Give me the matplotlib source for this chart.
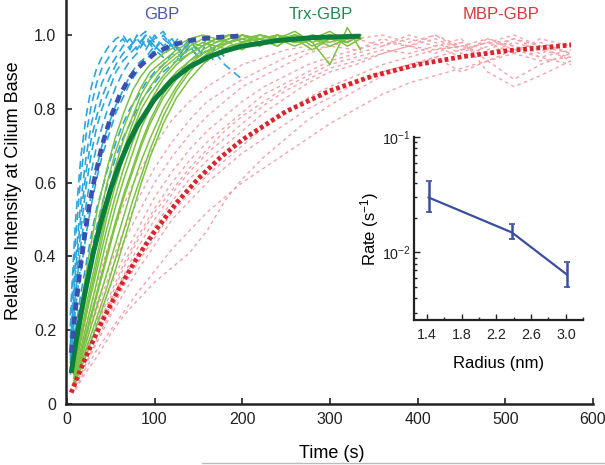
import numpy as np
import matplotlib
matplotlib.use('Agg')
import matplotlib.pyplot as plt
from matplotlib.lines import Line2D

plt.rcParams['font.family'] = ['Liberation Sans', 'DejaVu Sans']
plt.rcParams['mathtext.fontset'] = 'custom'
plt.rcParams['mathtext.rm'] = 'Liberation Sans'
plt.rcParams['mathtext.it'] = 'Liberation Sans:italic'
plt.rcParams['mathtext.bf'] = 'Liberation Sans:bold'

# Time grids for the single traces
gbp_time = [4, 10, 16, 22, 28, 34, 40, 48, 56, 64, 72, 80, 90, 100, 110, 120,
            130, 140, 150, 160, 170, 180, 190, 200]
trx_time = [8, 15, 25, 35, 45, 55, 65, 75, 85, 95, 110, 125, 140, 155, 170, 185,
            200, 220, 240, 260, 280, 300, 320, 335]
mbp_time = [10, 20, 35, 50, 65, 80, 100, 120, 140, 160, 180, 200, 225, 250, 275,
            300, 330, 360, 390, 420, 450, 480, 510, 540, 575]

# GBP single cell traces
gbp_traces = [
    [0.21, 0.45, 0.62, 0.73, 0.81, 0.87, 0.91, 0.94, 0.97, 0.99, 0.96, 1.00, 0.97, 0.99, 1.01, 0.97],
    [0.16, 0.36, 0.51, 0.63, 0.72, 0.78, 0.83, 0.88, 0.92, 0.95, 0.97, 0.99, 0.96, 1.00, 0.97, 0.99, 0.95, 0.98],
    [0.13, 0.30, 0.43, 0.54, 0.63, 0.70, 0.75, 0.81, 0.86, 0.90, 0.93, 0.95, 0.99, 0.96, 1.00, 0.97, 0.94, 0.98, 0.96, 0.99],
    [0.11, 0.24, 0.36, 0.46, 0.54, 0.61, 0.67, 0.73, 0.79, 0.83, 0.87, 0.90, 0.93, 0.96, 0.94, 0.98, 0.95, 0.99, 0.96, 0.93, 0.97, 0.94],
    [0.09, 0.20, 0.30, 0.38, 0.46, 0.53, 0.58, 0.65, 0.71, 0.76, 0.80, 0.83, 0.87, 0.90, 0.92, 0.95, 0.93, 0.97, 0.94, 0.98, 0.95, 0.92, 0.90, 0.88],
    [0.18, 0.39, 0.55, 0.67, 0.76, 0.82, 0.87, 0.91, 0.94, 0.97, 0.99, 0.96, 1.00, 0.97, 0.95],
    [0.15, 0.33, 0.47, 0.59, 0.68, 0.75, 0.80, 0.85, 0.90, 0.93, 0.95, 0.97, 1.00, 0.96, 0.99, 0.97, 1.00],
    [0.12, 0.26, 0.38, 0.49, 0.57, 0.64, 0.70, 0.76, 0.81, 0.85, 0.89, 0.92, 0.94, 0.97, 0.95, 0.98, 0.96, 0.99, 0.95],
    [0.24, 0.50, 0.67, 0.78, 0.86, 0.91, 0.94, 0.97, 0.99, 1.00, 0.97, 0.99, 1.01, 0.98],
    [0.08, 0.17, 0.26, 0.34, 0.41, 0.48, 0.54, 0.61, 0.67, 0.72, 0.76, 0.80, 0.84, 0.87, 0.90, 0.92, 0.94, 0.97, 0.94, 0.96, 0.92],
]

# Trx-GBP single cell traces
trx_traces = [
    [0.12, 0.25, 0.40, 0.53, 0.63, 0.72, 0.79, 0.85, 0.89, 0.92, 0.95, 0.97, 0.99, 1.00, 0.99, 1.00, 0.98, 1.00, 0.99, 1.01, 0.98, 1.00, 0.99, 1.00],
    [0.10, 0.20, 0.33, 0.45, 0.55, 0.64, 0.72, 0.78, 0.84, 0.88, 0.92, 0.95, 0.97, 0.99, 0.98, 1.00, 0.99, 0.97, 1.00, 0.98, 1.00, 0.99, 1.00, 0.99],
    [0.08, 0.16, 0.27, 0.37, 0.47, 0.56, 0.64, 0.71, 0.77, 0.82, 0.88, 0.92, 0.95, 0.97, 0.99, 0.98, 1.00, 0.99, 0.97, 1.00, 0.99, 1.01, 0.98, 1.00],
    [0.07, 0.13, 0.22, 0.31, 0.40, 0.49, 0.57, 0.64, 0.71, 0.77, 0.84, 0.89, 0.93, 0.96, 0.98, 0.99, 1.00, 0.98, 1.00, 0.99, 0.96, 0.99, 1.00, 0.99],
    [0.06, 0.11, 0.19, 0.27, 0.35, 0.43, 0.51, 0.59, 0.66, 0.72, 0.80, 0.86, 0.91, 0.94, 0.97, 0.98, 0.99, 1.00, 0.99, 0.98, 1.00, 0.99, 0.98, 1.00],
    [0.05, 0.10, 0.17, 0.24, 0.31, 0.39, 0.47, 0.55, 0.62, 0.69, 0.78, 0.85, 0.90, 0.94, 0.96, 0.98, 0.99, 0.97, 1.00, 0.98, 0.99, 1.00, 0.99],
    [0.09, 0.18, 0.30, 0.41, 0.52, 0.61, 0.69, 0.76, 0.82, 0.86, 0.91, 0.94, 0.96, 0.98, 0.97, 0.99, 1.00, 0.98, 0.99, 1.00, 0.97, 0.99],
    [0.06, 0.12, 0.21, 0.30, 0.39, 0.48, 0.56, 0.63, 0.70, 0.76, 0.83, 0.88, 0.92, 0.95, 0.97, 0.98, 0.96, 0.99, 1.00, 0.98, 0.99, 0.97, 0.99, 1.00],
    [0.07, 0.14, 0.24, 0.34, 0.44, 0.53, 0.61, 0.68, 0.75, 0.80, 0.86, 0.90, 0.93, 0.95, 0.97, 0.96, 0.98, 0.99, 0.97, 1.00, 0.98, 0.92, 1.02, 0.96],
    [0.11, 0.22, 0.36, 0.48, 0.59, 0.68, 0.75, 0.81, 0.86, 0.90, 0.93, 0.96, 0.98, 0.97, 0.99, 1.00, 0.98, 1.00, 0.99, 0.97, 0.99, 1.00, 0.98],
    [0.05, 0.09, 0.15, 0.22, 0.29, 0.36, 0.44, 0.52, 0.60, 0.67, 0.76, 0.83, 0.88, 0.92, 0.95, 0.97, 0.98, 0.99, 0.98, 1.00, 0.99, 0.98, 1.00, 0.99],
    [0.08, 0.17, 0.28, 0.39, 0.50, 0.59, 0.67, 0.74, 0.80, 0.84, 0.89, 0.93, 0.95, 0.97, 0.99, 0.98, 1.00, 0.99, 0.98, 1.00, 0.99, 1.00, 0.97, 0.99],
]

# MBP-GBP single cell traces
mbp_traces = [
    [0.10, 0.20, 0.33, 0.45, 0.54, 0.62, 0.70, 0.77, 0.82, 0.86, 0.89, 0.92, 0.94, 0.96, 0.97, 0.98, 0.99, 1.00, 0.98, 1.00, 0.97, 0.99, 0.96, 0.98, 0.95],
    [0.09, 0.17, 0.28, 0.38, 0.47, 0.55, 0.64, 0.71, 0.77, 0.82, 0.85, 0.88, 0.91, 0.94, 0.96, 0.97, 0.99, 0.97, 1.00, 0.98, 0.95, 0.99, 0.97, 0.94, 0.96],
    [0.07, 0.14, 0.23, 0.32, 0.40, 0.47, 0.56, 0.63, 0.69, 0.74, 0.78, 0.82, 0.86, 0.89, 0.92, 0.94, 0.96, 0.98, 0.97, 0.99, 0.96, 0.98, 1.00, 0.97, 0.93],
    [0.06, 0.12, 0.20, 0.28, 0.35, 0.42, 0.50, 0.57, 0.63, 0.68, 0.72, 0.76, 0.81, 0.85, 0.88, 0.91, 0.93, 0.95, 0.97, 0.96, 0.98, 0.93, 0.88, 0.92, 0.95],
    [0.05, 0.10, 0.18, 0.25, 0.32, 0.38, 0.45, 0.52, 0.57, 0.62, 0.66, 0.70, 0.75, 0.79, 0.83, 0.86, 0.89, 0.92, 0.94, 0.96, 0.97, 0.95, 0.98, 0.96, 0.94],
    [0.04, 0.08, 0.13, 0.19, 0.24, 0.28, 0.33, 0.37, 0.41, 0.47, 0.55, 0.61, 0.67, 0.72, 0.77, 0.81, 0.85, 0.89, 0.91, 0.94, 0.90, 0.93, 0.96, 0.94, 0.92],
    [0.08, 0.16, 0.26, 0.36, 0.44, 0.51, 0.60, 0.67, 0.73, 0.78, 0.82, 0.86, 0.89, 0.92, 0.95, 0.97, 0.96, 0.99, 0.97, 1.00, 0.96, 0.98, 0.95, 0.99, 0.97],
    [0.06, 0.11, 0.19, 0.27, 0.34, 0.40, 0.48, 0.55, 0.61, 0.66, 0.70, 0.74, 0.79, 0.83, 0.87, 0.90, 0.92, 0.95, 0.97, 0.95, 0.98, 0.96, 0.99, 0.97, 0.95],
    [0.07, 0.13, 0.22, 0.30, 0.38, 0.45, 0.53, 0.60, 0.66, 0.71, 0.75, 0.79, 0.84, 0.87, 0.90, 0.93, 0.95, 0.97, 0.99, 0.97, 0.94, 0.97, 0.99, 0.96, 0.98],
    [0.06, 0.12, 0.21, 0.29, 0.37, 0.44, 0.52, 0.58, 0.64, 0.69, 0.74, 0.78, 0.82, 0.86, 0.89, 0.92, 0.94, 0.96, 0.95, 0.97, 0.99, 0.90, 0.86, 0.89, 0.93],
    [0.04, 0.09, 0.15, 0.20, 0.25, 0.30, 0.36, 0.42, 0.47, 0.52, 0.56, 0.60, 0.64, 0.68, 0.72, 0.76, 0.80, 0.84, 0.87, 0.89, 0.91, 0.93, 0.95, 0.93, 0.94],
    [0.05, 0.10, 0.17, 0.24, 0.30, 0.36, 0.43, 0.50, 0.55, 0.60, 0.64, 0.68, 0.72, 0.76, 0.80, 0.83, 0.87, 0.90, 0.92, 0.94, 0.96, 0.98, 0.97, 0.95, 0.98],
]

# Fitted curves
gbp_fit_t = [5, 10, 15, 20, 25, 30, 40, 50, 60, 70, 80, 100, 120, 140, 160, 180, 200]
gbp_fit_y = [0.139, 0.259, 0.362, 0.451, 0.528, 0.593, 0.699, 0.777, 0.835, 0.878,
             0.909, 0.950, 0.973, 0.985, 0.992, 0.995, 0.998]
trx_fit_t = [5, 10, 15, 20, 30, 40, 50, 60, 70, 80, 100, 120, 140, 160, 180, 200, 240, 280, 335]
trx_fit_y = [0.084, 0.161, 0.231, 0.295, 0.408, 0.503, 0.583, 0.650, 0.706, 0.753,
             0.826, 0.878, 0.914, 0.939, 0.957, 0.970, 0.985, 0.993, 0.997]
mbp_fit_t = [5, 10, 20, 30, 40, 60, 80, 100, 125, 150, 175, 200, 250, 300, 350, 400, 450, 500, 575]
mbp_fit_y = [0.031, 0.061, 0.118, 0.172, 0.223, 0.315, 0.396, 0.467, 0.545, 0.611,
             0.668, 0.716, 0.793, 0.849, 0.890, 0.920, 0.941, 0.957, 0.973]

# Inset: rate vs radius
radius = [1.42, 2.38, 3.01]
rate = [0.030, 0.0149, 0.00645]
rate_err_low = [0.0077, 0.0017, 0.00148]
rate_err_high = [0.0114, 0.0026, 0.00175]

fig = plt.figure(figsize=(6.05, 4.65), dpi=100)
ax = fig.add_axes([0.109, 0.131, 0.871, 0.869])

for vals in mbp_traces:
    ax.plot(mbp_time[:len(vals)], vals, color='#f3a3aa', lw=1.0, dashes=(2.5, 2.5))
for vals in gbp_traces:
    ax.plot(gbp_time[:len(vals)], vals, color='#2ba6dd', lw=1.2, dashes=(5, 3))
for vals in trx_traces:
    ax.plot(trx_time[:len(vals)], vals, color='#7cc242', lw=1.1)

ax.plot(mbp_fit_t, mbp_fit_y, color='#d7262e', lw=3.4, dashes=(0.8, 0.6))
ax.plot(trx_fit_t, trx_fit_y, color='#0b7d3c', lw=3.6, solid_capstyle='butt')
ax.plot(gbp_fit_t, gbp_fit_y, color='#3a4fae', lw=3.4, dashes=(1.7, 1.3))

ax.text(108, 1.057, 'GBP', color='#4a56a8', fontsize=12, ha='center', va='center')
ax.text(290, 1.057, 'Trx-GBP', color='#1e8a50', fontsize=12, ha='center', va='center')
ax.text(495, 1.057, 'MBP-GBP', color='#d9363e', fontsize=12, ha='center', va='center')

ax.set_xlim(-1, 600)
ax.set_ylim(0, 1.095)
ax.set_xticks([0, 100, 200, 300, 400, 500, 600])
ax.set_yticks([0, 0.2, 0.4, 0.6, 0.8, 1.0])
ax.set_yticklabels(['0', '0.2', '0.4', '0.6', '0.8', '1.0'])
ax.tick_params(direction='in', length=4, width=1.2, labelsize=11.5, colors='#222222')
ax.tick_params(axis='x', pad=6)
ax.tick_params(axis='y', pad=7)
for side in ['top', 'right']:
    ax.spines[side].set_visible(False)
for side in ['left', 'bottom']:
    ax.spines[side].set_linewidth(1.8)
    ax.spines[side].set_color('#222222')
ax.set_xlabel('Time (s)', fontsize=13)
ax.set_ylabel('Relative Intensity at Cilium Base', fontsize=13)
ax.xaxis.set_label_coords(0.505, -0.102)
ax.yaxis.set_label_coords(-0.083, 0.527)

# Inset with the rate constants
ins = fig.add_axes([0.684, 0.312, 0.280, 0.393])
ins.errorbar(radius, rate, yerr=[rate_err_low, rate_err_high], color='#3a4fa0',
             lw=1.6, elinewidth=1.8, capsize=2, capthick=1.2)
ins.set_yscale('log')
ins.set_xlim(1.25, 3.2)
ins.set_ylim(0.0026, 0.1)
ins.set_xticks([1.4, 1.8, 2.2, 2.6, 3.0])
ins.set_xticklabels(['1.4', '1.8', '2.2', '2.6', '3.0'])
ins.set_xticks([1.6, 2.0, 2.4, 2.8, 3.2], minor=True)
ins.set_yticks([0.01, 0.1])
ins.set_yticklabels(['10$^{-2}$', '10$^{-1}$'])
ins.tick_params(which='both', direction='in', width=1.0, labelsize=10.3, colors='#222222')
ins.tick_params(which='major', length=4)
ins.tick_params(which='minor', length=2.5)
ins.tick_params(axis='y', pad=2)
ins.tick_params(axis='x', pad=6)
for side in ['top', 'right']:
    ins.spines[side].set_visible(False)
for side in ['left', 'bottom']:
    ins.spines[side].set_linewidth(1.6)
    ins.spines[side].set_color('#222222')
ins.set_xlabel('Radius (nm)', fontsize=12, labelpad=10)
ins.set_ylabel('Rate (s$^{-1}$)', fontsize=12, labelpad=1)

# thin grey line along the bottom edge
fig.add_artist(Line2D([0.334, 1.0], [0.004, 0.004], color='#bbbbbb', lw=1.0))

plt.savefig('out.png', dpi=100)
plt.close()
